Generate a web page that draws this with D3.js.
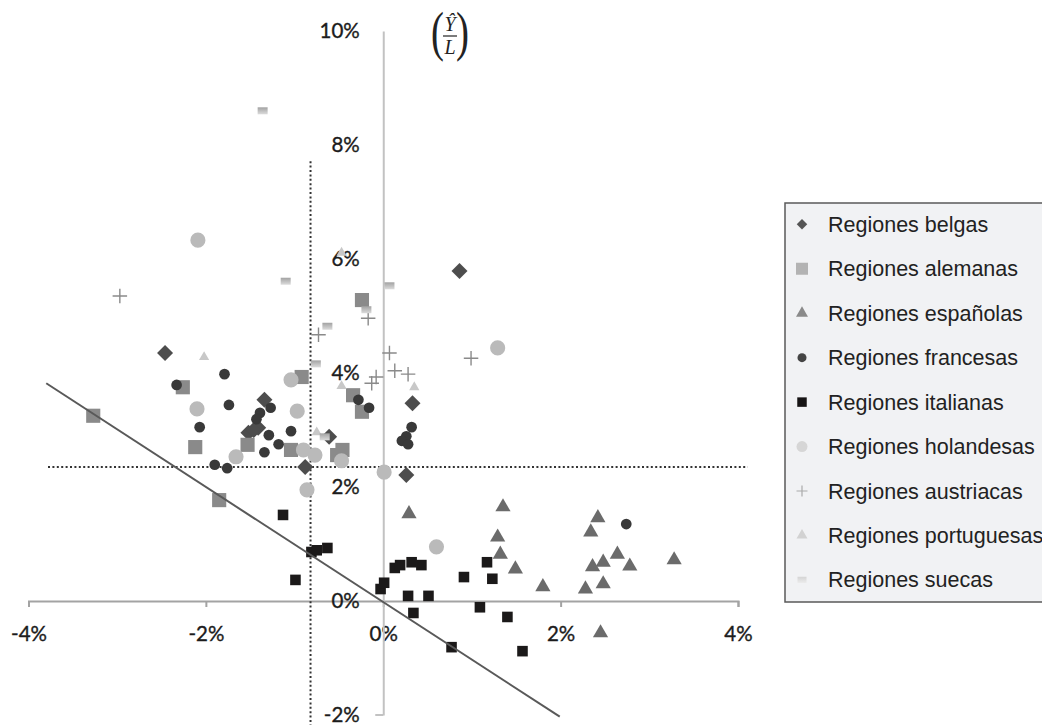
<!DOCTYPE html>
<html lang="es">
<head>
    <meta charset="UTF-8">
    <title>Regiones europeas</title>
    <script src="https://d3js.org/d3.v7.min.js"></script>
    <style>
        body {
            margin: 0;
            background: #fff;
        }
        svg {
            display: block;
        }
        .axis text {
            font-family: Lato, 'Open Sans', sans-serif;
            font-size: 20.5px;
            fill: #1c1c1c;
            stroke: #1c1c1c;
            stroke-width: 0.35px;
        }
        .legend-text {
            font-family: 'Liberation Sans', Arial, sans-serif;
            font-size: 21.5px;
            fill: #222;
        }
        .math {
            font-family: 'Liberation Serif', 'DejaVu Serif', serif;
            fill: #222;
        }
    </style>
</head>
<body>

<div id="container"></div>

<script>
    // points are [x %, y %]
    const belgas = [[-2.46, 4.35], [-1.34, 3.53], [-1.41, 3.04], [-1.52, 2.95], [-1.46, 3.00],
        [-0.61, 2.88], [-0.88, 2.35], [0.33, 3.47], [0.26, 2.21], [0.86, 5.79]];
    const alemanas = [[-3.27, 3.25], [-2.26, 3.75], [-2.12, 2.70], [-1.85, 1.77], [-1.53, 2.74],
        [-1.04, 2.65], [-0.92, 3.93], [-0.24, 5.28], [-0.34, 3.61], [-0.24, 3.32], [-0.52, 2.56], [-0.46, 2.65]];
    const espanolas = [[0.29, 1.53], [1.35, 1.65], [1.29, 1.12], [1.32, 0.82], [1.49, 0.56], [1.80, 0.25],
        [2.42, 1.46], [2.34, 1.21], [2.64, 0.82], [2.48, 0.68], [2.36, 0.60], [2.78, 0.61], [3.28, 0.72],
        [2.48, 0.30], [2.28, 0.21], [2.45, -0.56]];
    const francesas = [[-2.33, 3.79], [-1.79, 3.98], [-1.74, 3.44], [-2.07, 3.05], [-1.90, 2.39], [-1.76, 2.33],
        [-1.39, 3.30], [-1.43, 3.19], [-1.27, 3.39], [-1.29, 2.91], [-1.34, 2.61], [-1.18, 2.75], [-1.04, 2.98],
        [-0.28, 3.53], [-0.16, 3.39], [0.32, 3.05], [0.26, 2.89], [0.21, 2.81], [0.28, 2.75], [2.74, 1.35]];
    const italianas = [[-1.13, 1.51], [-0.99, 0.37], [-0.81, 0.86], [-0.75, 0.89], [-0.63, 0.93], [-0.03, 0.21],
        [0.01, 0.32], [0.13, 0.58], [0.19, 0.63], [0.32, 0.68], [0.43, 0.63], [0.28, 0.09], [0.51, 0.09],
        [0.34, -0.21], [0.77, -0.81], [0.91, 0.42], [1.17, 0.68], [1.23, 0.39], [1.09, -0.11], [1.40, -0.28], [1.57, -0.88]];
    const holandesas = [[-2.09, 6.33], [1.29, 4.44], [-2.10, 3.37], [-1.66, 2.53], [-0.97, 3.33], [-1.04, 3.88],
        [-0.90, 2.65], [-0.77, 2.56], [-0.86, 1.95], [-0.47, 2.46], [0.01, 2.26], [0.60, 0.95]];
    const austriacas = [[-2.97, 5.35], [-0.73, 4.67], [-0.17, 4.96], [0.07, 4.35], [0.99, 4.26], [0.13, 4.04],
        [0.28, 3.98], [-0.08, 3.93], [-0.13, 3.82]];
    const portuguesas = [[-2.02, 4.28], [-0.47, 3.77], [0.35, 3.75], [-0.75, 2.96], [-0.47, 6.11]];
    const suecas = [[-1.36, 8.60], [-1.10, 5.61], [0.07, 5.53], [-0.63, 4.82], [-0.19, 5.11], [-0.76, 4.16], [-0.66, 2.88]];

    const xTicks = [-4, -2, 0, 2, 4];
    const yTicks = [-2, 0, 2, 4, 6, 8, 10];

    // fitted line and the two dotted reference lines
    const fitLine = [[-3.8, 3.82], [1.99, -2.03]];
    const vDotted = [[-0.82, -2.2], [-0.82, 7.74]];
    const hDotted = [[-3.78, 2.35], [4.11, 2.35]];

    const width = 1042, height = 725;

    const svg = d3.select('#container').append('svg')
        .attr('width', width)
        .attr('height', height);

    const x = d3.scaleLinear().domain([-4, 4]).range([28.5, 738]);
    const y = d3.scaleLinear().domain([-2, 10]).range([715, 31]);

    // custom marker shapes
    const symDiamond = { draw(ctx, size) {
        const r = Math.sqrt(size) / 2;
        ctx.moveTo(0, -r); ctx.lineTo(r, 0); ctx.lineTo(0, r); ctx.lineTo(-r, 0); ctx.closePath();
    }};
    const symPlus = { draw(ctx, size) {
        const r = Math.sqrt(size) / 2;
        ctx.moveTo(-r, 0); ctx.lineTo(r, 0); ctx.moveTo(0, -r); ctx.lineTo(0, r);
    }};
    const symBar = { draw(ctx, size) {
        const w = Math.sqrt(size), h = w * 0.7;
        ctx.rect(-w / 2, -h / 2, w, h);
    }};

    const defs = svg.append('defs');
    const grad = defs.append('linearGradient').attr('id', 'sueGrad')
        .attr('x1', 0).attr('y1', 0).attr('x2', 0).attr('y2', 1);
    grad.append('stop').attr('offset', '0%').attr('stop-color', '#a2a2a2');
    grad.append('stop').attr('offset', '100%').attr('stop-color', '#dcdcdc');
    const grad2 = defs.append('linearGradient').attr('id', 'sueGradLeg')
        .attr('x1', 0).attr('y1', 0).attr('x2', 0).attr('y2', 1);
    grad2.append('stop').attr('offset', '0%').attr('stop-color', '#d4d4d4');
    grad2.append('stop').attr('offset', '100%').attr('stop-color', '#ececec');

    const series = [
        {name: 'Regiones belgas', data: belgas, type: symDiamond, size: 256, fill: '#4d4d4d', lsize: 110, lfill: '#555'},
        {name: 'Regiones alemanas', data: alemanas, type: d3.symbolSquare, size: 200, fill: '#8a8a8a', lsize: 144, lfill: '#b3b3b3'},
        {name: 'Regiones españolas', data: espanolas, type: d3.symbolTriangle, size: 100, fill: '#6b6b6b', lsize: 62, lfill: '#8a8a8a'},
        {name: 'Regiones francesas', data: francesas, type: d3.symbolCircle, size: 90, fill: '#393939', lsize: 64, lfill: '#444'},
        {name: 'Regiones italianas', data: italianas, type: d3.symbolSquare, size: 112, fill: '#1b1919', lsize: 90, lfill: '#161414'},
        {name: 'Regiones holandesas', data: holandesas, type: d3.symbolCircle, size: 180, fill: '#bababa', lsize: 95, lfill: '#d6d6d6'},
        {name: 'Regiones austriacas', data: austriacas, type: symPlus, size: 210, stroke: '#8a8a8a', lsize: 121, lstroke: '#aaa'},
        {name: 'Regiones portuguesas', data: portuguesas, type: d3.symbolTriangle, size: 45, fill: '#c8c8c8', lsize: 52, lfill: '#d2d2d2'},
        {name: 'Regiones suecas', data: suecas, type: symBar, size: 100, fill: 'url(#sueGrad)', lsize: 81, lfill: 'url(#sueGradLeg)'}
    ];

    // x axis
    const xAxis = svg.append('g')
        .attr('class', 'axis')
        .attr('transform', `translate(0,${y(0)})`)
        .call(d3.axisBottom(x).tickValues(xTicks).tickSize(6).tickSizeOuter(6).tickPadding(19)
            .tickFormat(d => d + '%'));
    xAxis.selectAll('path, line').attr('stroke', '#a3a3a3').attr('stroke-width', 2);

    // y axis
    const yAxis = svg.append('g')
        .attr('class', 'axis')
        .attr('transform', `translate(${x(0)},0)`)
        .call(d3.axisLeft(y).tickValues(yTicks).tickSize(0).tickSizeOuter(0).tickPadding(23.5)
            .tickFormat(d => d + '%'));
    yAxis.select('.domain').attr('stroke', '#c2c2c2').attr('stroke-width', 2);
    yAxis.append('line')
        .attr('x1', -8).attr('x2', 0)
        .attr('y1', y(-2)).attr('y2', y(-2))
        .attr('stroke', '#c2c2c2').attr('stroke-width', 2);

    const line = d3.line().x(d => x(d[0])).y(d => y(d[1]));

    // dotted reference lines
    [vDotted, hDotted].forEach(seg => {
        svg.append('path')
            .attr('d', line(seg))
            .attr('fill', 'none')
            .attr('stroke', '#333')
            .attr('stroke-width', 2)
            .attr('stroke-dasharray', '2,2.4');
    });

    // markers
    series.forEach(s => {
        const sym = d3.symbol().type(s.type).size(s.size);
        svg.append('g').selectAll('path')
            .data(s.data)
            .enter()
            .append('path')
            .attr('transform', d => `translate(${x(d[0])},${y(d[1])})`)
            .attr('d', sym)
            .attr('fill', s.fill || 'none')
            .attr('stroke', s.stroke || 'none')
            .attr('stroke-width', s.stroke ? 1.4 : 0);
    });

    // fitted line
    svg.append('path')
        .attr('d', line(fitLine))
        .attr('fill', 'none')
        .attr('stroke', '#595959')
        .attr('stroke-width', 2);

    // (Y^/L) label
    const math = svg.append('g').attr('class', 'math');
    math.append('text')
        .attr('transform', 'translate(431,50) scale(0.72,1)')
        .style('font-size', '54px')
        .text('(');
    math.append('text')
        .attr('transform', 'translate(456,50) scale(0.72,1)')
        .style('font-size', '54px')
        .text(')');
    math.append('text')
        .attr('x', 450).attr('y', 31)
        .attr('text-anchor', 'middle')
        .style('font-size', '20px')
        .style('font-style', 'italic')
        .text('Ŷ');
    math.append('line')
        .attr('x1', 443).attr('x2', 457)
        .attr('y1', 36).attr('y2', 36)
        .attr('stroke', '#222').attr('stroke-width', 1.2);
    math.append('text')
        .attr('x', 450).attr('y', 54)
        .attr('text-anchor', 'middle')
        .style('font-size', '20px')
        .style('font-style', 'italic')
        .text('L');

    // legend
    const legend = svg.append('g').attr('transform', 'translate(785,203)');
    legend.append('rect')
        .attr('width', 280).attr('height', 399)
        .attr('fill', '#f1f2f4')
        .attr('stroke', '#595959')
        .attr('stroke-width', 1.5);

    const rows = legend.selectAll('.row')
        .data(series)
        .enter()
        .append('g')
        .attr('class', 'row')
        .attr('transform', (d, i) => `translate(0,${21.3 + i * 44.45})`);

    rows.append('path')
        .attr('transform', 'translate(17,0)')
        .attr('d', d => d3.symbol().type(d.type).size(d.lsize)())
        .attr('fill', d => d.lfill || 'none')
        .attr('stroke', d => d.lstroke || 'none')
        .attr('stroke-width', d => d.lstroke ? 1.2 : 0);

    rows.append('text')
        .attr('class', 'legend-text')
        .attr('x', 43)
        .attr('dy', '0.35em')
        .text(d => d.name);
</script>
</body>
</html>
